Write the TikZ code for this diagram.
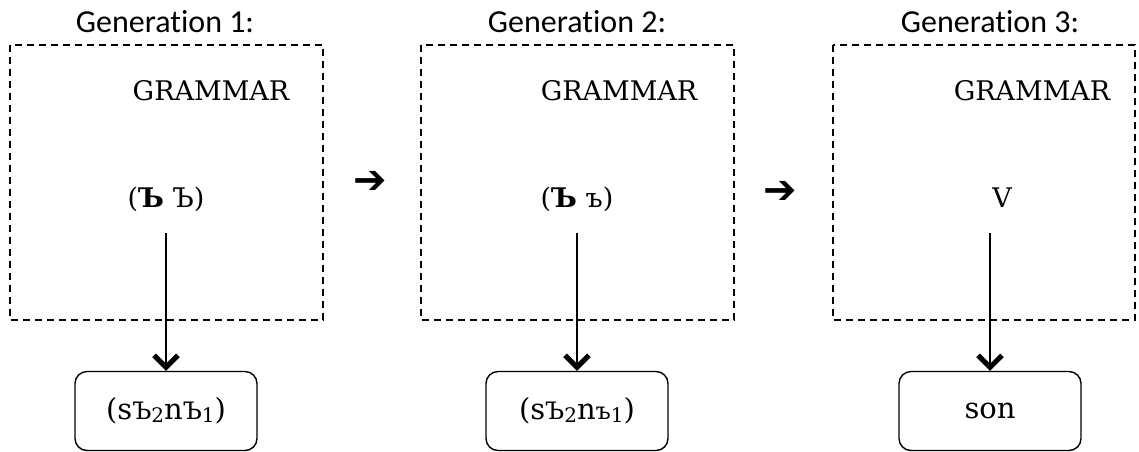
\documentclass[tikz,border=0pt]{standalone}
\usepackage{fontspec}
\setmainfont{DejaVu Serif}
\newfontfamily\headfont[Ligatures=NoCommon]{Carlito}
\newfontfamily\symfont{DejaVu Sans}
\usetikzlibrary{arrows.meta}

% small letter and lowered index used inside the output boxes
\newcommand{\smallcy}[1]{{\fontsize{24}{24}\selectfont #1}}
\newcommand{\lowidx}[1]{\raisebox{-3pt}{\fontsize{20}{20}\selectfont #1}}

\begin{document}
\begin{tikzpicture}[x=1pt,y=-1pt,
  grammarbox/.style={draw, line width=1.4pt, dash pattern=on 7pt off 5pt},
  heading/.style={anchor=base, inner sep=0pt, font=\headfont\fontsize{32}{36}\selectfont},
  label/.style={anchor=base, inner sep=0pt, font=\fontsize{27}{30}\selectfont},
  outbox/.style={draw, line width=1.4pt, rounded corners=12pt, minimum width=182pt,
    minimum height=79pt, font=\fontsize{29}{32}\selectfont, inner sep=0pt},
  stepsign/.style={anchor=center, inner sep=0pt, font=\symfont\fontsize{40}{40}\selectfont},
  derive/.style={line width=2.2pt, -{Straight Barb[length=12pt, width=24pt, line width=5pt]}}]
\useasboundingbox (0,0) rectangle (1139,451);

% generation headings
\node[heading] (h1) at (165,32) {Generation 1:};
\node[heading] (h2) at (577,32) {Generation 2:};
\node[heading] (h3) at (990,32) {Generation 3:};

% dashed grammar frames
\draw[grammarbox] (10,45) rectangle (323,320);
\draw[grammarbox] (421,45) rectangle (734,320);
\draw[grammarbox] (833,45) rectangle (1135,320);

\node[label] (g1) at (211,100) {GRAMMAR};
\node[label] (g2) at (619,100) {GRAMMAR};
\node[label] (g3) at (1032,100) {GRAMMAR};

% grammar contents
\node[label] (r1) at (166,207) {(\textbf{Ъ} Ъ)};
\node[label] (r2) at (577,207) {(\textbf{Ъ} ъ)};
\node[label] (r3) at (1002,207) {V};

% step signs between generations
\node[stepsign] (s1) at (370,182) {➔};
\node[stepsign] (s2) at (780,192) {➔};

% output boxes
\node[outbox] (o1) at (166,411) {(s\smallcy{Ъ}\lowidx{2}n\smallcy{Ъ}\lowidx{1})};
\node[outbox] (o2) at (577,411) {(s\smallcy{Ъ}\lowidx{2}n\smallcy{ъ}\lowidx{1})};
\node[outbox] (o3) at (990,411) {son};

% derivation arrows
\coordinate (d1) at (166,233);
\coordinate (d2) at (577,233);
\coordinate (d3) at (990,233);
\draw[derive] (d1) -- (o1.north);
\draw[derive] (d2) -- (o2.north);
\draw[derive] (d3) -- (o3.north);
\end{tikzpicture}
\end{document}
